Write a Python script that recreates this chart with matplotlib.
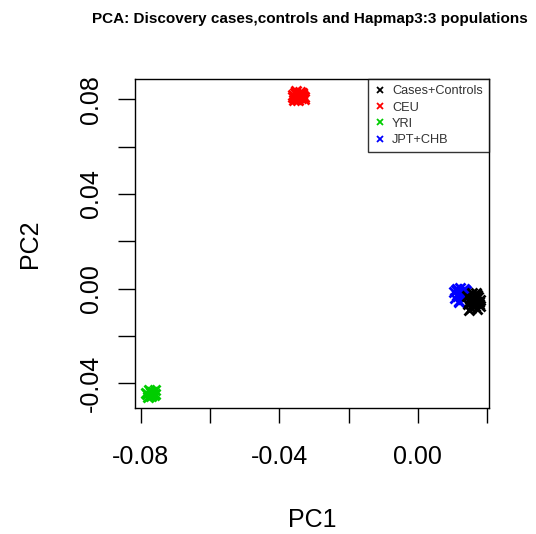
import matplotlib
matplotlib.use("Agg")
import matplotlib.pyplot as plt
from matplotlib.lines import Line2D

plt.rcParams["font.family"] = ["Liberation Sans", "DejaVu Sans"]

title = "PCA: Discovery cases,controls and Hapmap3:3 populations"
group_labels = ["Cases+Controls", "CEU", "YRI", "JPT+CHB"]
group_colors = ["#000000", "#FF0000", "#00CD00", "#0000FF"]

# hand-read point positions for each cluster
ceu_pc1 = [-0.0362, -0.0355, -0.0348, -0.0340, -0.0333, -0.0328, -0.0358, -0.0350, -0.0342, -0.0336,
           -0.0330, -0.0352, -0.0345, -0.0338, -0.0360, -0.0347, -0.0334, -0.0343, -0.0356, -0.0339]
ceu_pc2 = [0.0812, 0.0826, 0.0803, 0.0830, 0.0815, 0.0800, 0.0798, 0.0818, 0.0808, 0.0822,
           0.0811, 0.0834, 0.0796, 0.0805, 0.0820, 0.0813, 0.0827, 0.0821, 0.0807, 0.0816]

yri_pc1 = [-0.0785, -0.0778, -0.0771, -0.0764, -0.0758, -0.0781, -0.0774, -0.0767, -0.0760, -0.0776,
           -0.0769, -0.0783, -0.0762, -0.0772]
yri_pc2 = [-0.0440, -0.0428, -0.0452, -0.0435, -0.0446, -0.0457, -0.0431, -0.0444, -0.0428, -0.0455,
           -0.0438, -0.0447, -0.0451, -0.0442]

asn_pc1 = [0.0105, 0.0110, 0.0116, 0.0122, 0.0128, 0.0134, 0.0140, 0.0108, 0.0114, 0.0120,
           0.0126, 0.0132, 0.0112, 0.0124, 0.0118, 0.0130, 0.0136]
asn_pc2 = [-0.0015, -0.0005, -0.0030, 0.0003, -0.0020, -0.0002, -0.0010, -0.0040, -0.0025, -0.0050,
           -0.0035, -0.0045, 0.0000, -0.0012, -0.0055, -0.0028, -0.0006]

cc_pc1 = [0.0142, 0.0150, 0.0158, 0.0166, 0.0174, 0.0181, 0.0146, 0.0154, 0.0162, 0.0170,
          0.0178, 0.0148, 0.0160, 0.0172, 0.0156, 0.0168, 0.0180, 0.0152, 0.0164, 0.0176]
cc_pc2 = [-0.0030, -0.0045, -0.0020, -0.0060, -0.0035, -0.0075, -0.0065, -0.0080, -0.0050, -0.0025,
          -0.0055, -0.0088, -0.0040, -0.0085, -0.0070, -0.0018, -0.0048, -0.0058, -0.0072, -0.0065]

x_ticks = [-0.08, -0.06, -0.04, -0.02, 0.00, 0.02]
x_labels = ["-0.08", "", "-0.04", "", "0.00", ""]
y_ticks = [-0.04, -0.02, 0.00, 0.02, 0.04, 0.06, 0.08]
y_labels = ["-0.04", "", "0.00", "", "0.04", "", "0.08"]


def main() -> None:
    fig = plt.figure(figsize=(5.36, 5.34), dpi=100)
    ax = fig.add_axes([0.252, 0.2365, 0.6604, 0.6155])

    mk = dict(marker="x", linestyle="none", markersize=6.5, markeredgewidth=2.0)
    ax.plot(ceu_pc1, ceu_pc2, color=group_colors[1], **mk)
    ax.plot(yri_pc1, yri_pc2, color=group_colors[2], **mk)
    ax.plot(asn_pc1, asn_pc2, color=group_colors[3], **mk)
    ax.plot(cc_pc1, cc_pc2, color=group_colors[0], **mk)

    ax.set_xlim(-0.0817, 0.0206)
    ax.set_ylim(-0.0503, 0.0886)
    ax.set_xticks(x_ticks)
    ax.set_xticklabels(x_labels, fontsize=18)
    ax.set_yticks(y_ticks)
    ax.set_yticklabels(y_labels, fontsize=18, rotation=90, va="center")
    ax.tick_params(axis="x", length=11, width=1, pad=16, direction="out")
    ax.tick_params(axis="y", length=12, width=1, pad=11, direction="out")
    for s in ax.spines.values():
        s.set_linewidth(1.0)

    ax.set_xlabel("PC1", fontsize=18, labelpad=28)
    ax.set_ylabel("PC2", fontsize=18, labelpad=27)
    fig.text(0.579, 0.964, title, fontsize=11, fontweight="bold", ha="center", va="center")

    handles = [Line2D([], [], marker="x", linestyle="none", color=c, markersize=4.5, markeredgewidth=1.3)
               for c in group_colors]
    leg = ax.legend(handles, group_labels, loc="upper right", bbox_to_anchor=(1.0, 1.0),
                    borderaxespad=0, fontsize=9.2, frameon=True, fancybox=False,
                    handlelength=0.8, handletextpad=0.55, labelspacing=0.33, borderpad=0.5)
    leg.get_frame().set_edgecolor("black")
    leg.get_frame().set_linewidth(1.0)
    for t in leg.get_texts():
        t.set_color("#333333")

    fig.savefig("out.png", dpi=100)


if __name__ == "__main__":
    main()
